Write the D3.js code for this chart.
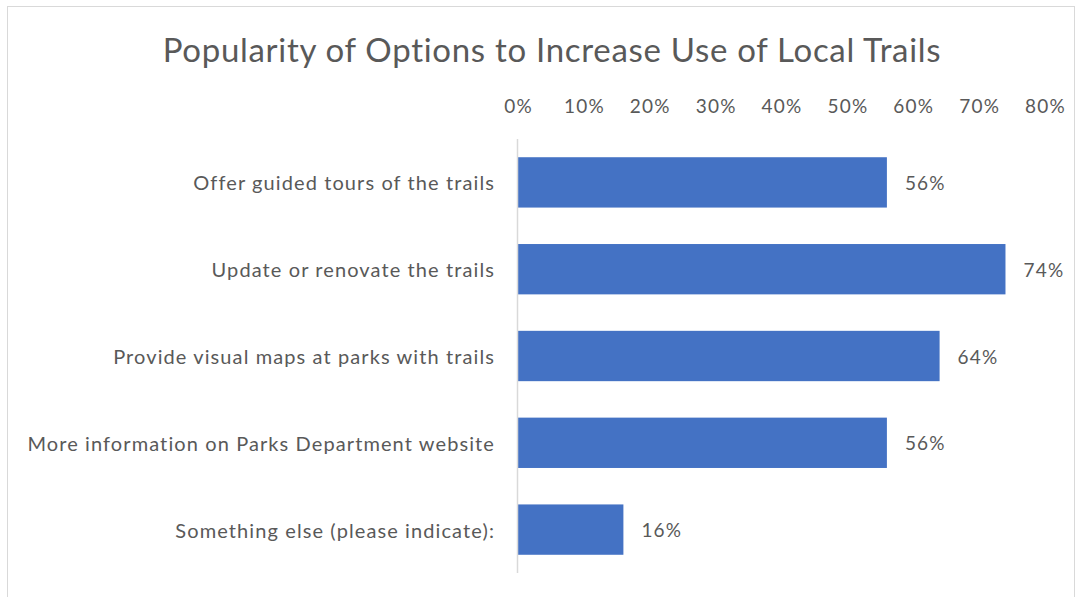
<!DOCTYPE html>
<html lang="en">
<head>
<meta charset="UTF-8">
<title>Popularity of Options</title>
<script src="https://cdn.jsdelivr.net/npm/d3@7"></script>
<style>
  body { margin: 0; background: #fff; }
  text { font-family: Lato, "Open Sans", sans-serif; fill: #595959; }
</style>
</head>
<body>
<script>
// data
var categories = [
  "Offer guided tours of the trails",
  "Update or renovate the trails",
  "Provide visual maps at parks with trails",
  "More information on Parks Department website",
  "Something else (please indicate):"
];
var values = [0.56, 0.74, 0.64, 0.56, 0.16];
var tickValues = [0, 0.1, 0.2, 0.3, 0.4, 0.5, 0.6, 0.7, 0.8];
var title = "Popularity of Options to Increase Use of Local Trails";

var width = 1081, height = 597;
var svg = d3.select("body").append("svg").attr("width", width).attr("height", height);

// chart border
svg.append("rect")
  .attr("x", 7.5).attr("y", 6.5)
  .attr("width", 1067).attr("height", 600)
  .attr("fill", "none").attr("stroke", "#d9d9d9");

svg.append("text")
  .attr("x", 552).attr("y", 62)
  .attr("text-anchor", "middle")
  .style("font-size", "33px")
  .style("letter-spacing", "0.7px")
  .text(title);

var x = d3.scaleLinear().domain([0, 0.8]).range([518, 1045]);
var y = d3.scaleBand().domain(categories).range([139, 573]).paddingInner(0.42).paddingOuter(0.21);

// top axis labels
var xAxis = d3.axisTop(x).tickValues(tickValues).tickFormat(d3.format(".0%")).tickSize(0).tickPadding(0);
var gx = svg.append("g").attr("transform", "translate(0,113)").call(xAxis);
gx.select(".domain").remove();
gx.selectAll("text")
  .style("font-size", "19px")
  .style("letter-spacing", "1.2px")
  .style("font-family", "Lato, sans-serif")
  .attr("fill", "#595959");

// bars
svg.selectAll("rect.bar")
  .data(values)
  .enter()
  .append("rect")
  .attr("class", "bar")
  .attr("x", x(0))
  .attr("y", function(d, i) { return y(categories[i]); })
  .attr("width", function(d) { return x(d) - x(0); })
  .attr("height", y.bandwidth())
  .attr("fill", "#4472c4");

// vertical axis line
svg.append("line")
  .attr("x1", x(0) - 0.5).attr("x2", x(0) - 0.5)
  .attr("y1", 139).attr("y2", 573)
  .attr("stroke", "#d9d9d9").attr("stroke-width", 1.5);

// category labels
svg.selectAll("text.cat")
  .data(categories)
  .enter()
  .append("text")
  .attr("class", "cat")
  .attr("x", 495)
  .attr("y", function(d) { return y(d) + y.bandwidth() / 2 + 1; })
  .attr("dy", "0.35em")
  .attr("text-anchor", "end")
  .style("font-size", "20px")
  .style("letter-spacing", "1.1px")
  .text(function(d) { return d; });

// value labels
svg.selectAll("text.val")
  .data(values)
  .enter()
  .append("text")
  .attr("class", "val")
  .attr("x", function(d) { return x(d) + 18; })
  .attr("y", function(d, i) { return y(categories[i]) + y.bandwidth() / 2 + 1; })
  .attr("dy", "0.35em")
  .style("font-size", "19px")
  .style("letter-spacing", "1.2px")
  .text(function(d) { return d3.format(".0%")(d); });
</script>
</body>
</html>
